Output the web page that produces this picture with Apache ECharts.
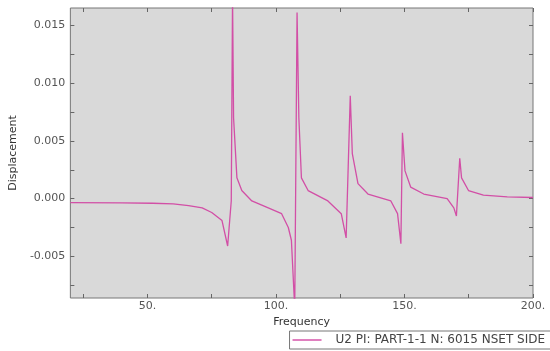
<!DOCTYPE html>
<html><head><meta charset="utf-8">
<script src="https://cdn.jsdelivr.net/npm/echarts@6/dist/echarts.min.js"></script>
<style>html,body{margin:0;padding:0;background:#fff}#c{width:550px;height:351px}</style>
</head><body><div id="c"></div>
<script>
const freq = [20, 40, 52, 60, 66, 71.3, 75, 79.0, 81.2, 82.6, 83.1, 83.5, 84.8, 86.7, 90.6, 97.0, 102.2, 104.8, 106.0, 107.3, 108.2, 108.9, 109.9, 112.5, 120.2, 125.4, 127.3, 128.9, 129.7, 131.9, 135.8, 144.7, 147.3, 148.6, 149.2, 150.2, 152.4, 157.5, 166.6, 169.2, 170.2, 171.5, 172.2, 174.9, 180.7, 190, 200];
const displacement = [-0.00035, -0.00037, -0.0004, -0.00045, -0.0006, -0.0008, -0.0012, -0.0019, -0.0041, -0.0002, 0.0175, 0.0070, 0.0018, 0.0007, -0.0002, -0.0008, -0.0013, -0.0025, -0.0036, -0.0095, 0.0161, 0.0070, 0.0018, 0.0007, -0.0002, -0.0013, -0.0034, 0.0089, 0.0039, 0.0013, 0.0004, -0.0002, -0.0013, -0.0039, 0.0057, 0.0024, 0.0010, 0.0004, 0.0000, -0.0008, -0.0015, 0.0035, 0.0018, 0.0007, 0.0003, 0.00015, 0.0001];
const xTicks = [25, 50, 75, 100, 125, 150, 175, 200];
const xLabels = [50, 100, 150, 200];
const yTicks = [-0.0075, -0.005, -0.0025, 0, 0.0025, 0.005, 0.0075, 0.01, 0.0125, 0.015];
const yLabels = [-0.005, 0, 0.005, 0.01, 0.015];
const seriesName = 'U2 PI: PART-1-1 N: 6015 NSET SIDE';

const font = 'DejaVu Sans';
const chart = echarts.init(document.getElementById('c'));
const tickStyle = {show: true, inside: true, length: 4, lineStyle: {color: '#666'}};
const noLine = {show: false, onZero: false};
chart.setOption({
  animation: false,
  grid: {left: 67, right: 17, top: 8, bottom: 53, show: true, backgroundColor: '#d9d9d9', borderColor: '#777', borderWidth: 1},
  xAxis: [{
    type: 'value', min: 20, max: 200,
    name: 'Frequency', nameLocation: 'middle', nameGap: 16,
    nameTextStyle: {fontFamily: font, fontSize: 11, color: '#333'},
    axisLine: noLine, splitLine: {show: false},
    axisTick: Object.assign({customValues: xTicks}, tickStyle),
    axisLabel: {customValues: xLabels, formatter: v => v + '.', fontFamily: font, fontSize: 11, color: '#555', margin: 3}
  }, {
    type: 'value', min: 20, max: 200, position: 'top',
    axisLine: noLine, splitLine: {show: false},
    axisTick: Object.assign({customValues: xTicks}, tickStyle),
    axisLabel: {show: false, customValues: xLabels}
  }],
  yAxis: [{
    type: 'value', min: -0.0086, max: 0.0165,
    name: 'Displacement', nameLocation: 'middle', nameGap: 42,
    nameTextStyle: {fontFamily: font, fontSize: 11, color: '#333'},
    axisLine: noLine, splitLine: {show: false},
    axisTick: Object.assign({customValues: yTicks}, tickStyle),
    axisLabel: {customValues: yLabels, formatter: v => v.toFixed(3), fontFamily: font, fontSize: 11, color: '#555', margin: 5}
  }, {
    type: 'value', min: -0.0086, max: 0.0165, position: 'right',
    axisLine: noLine, splitLine: {show: false},
    axisTick: Object.assign({customValues: yTicks}, tickStyle),
    axisLabel: {show: false, customValues: yLabels}
  }],
  legend: {
    right: -1, bottom: 2, padding: [3, 6, 3, 3], borderColor: '#777', borderWidth: 1, backgroundColor: '#fff',
    itemWidth: 29, itemHeight: 2, itemGap: 10,
    textStyle: {fontFamily: font, fontSize: 12, color: '#444', padding: [0, 0, 0, 9]},
    data: [{name: seriesName, icon: 'rect'}]
  },
  series: [{
    name: seriesName, type: 'line', symbol: 'none', clip: true,
    xAxisIndex: 0, yAxisIndex: 0,
    lineStyle: {color: '#d24fa6', width: 1.3},
    itemStyle: {color: '#e07fbf'},
    data: freq.map((f, i) => [f, displacement[i]])
  }]
});
</script></body></html>
